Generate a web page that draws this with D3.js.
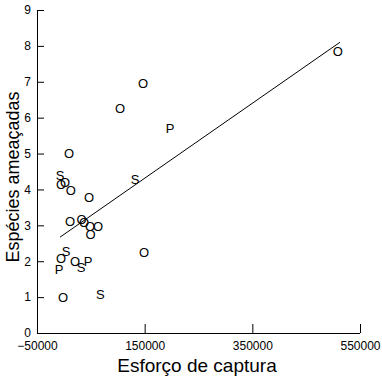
<!DOCTYPE html>
<html>
<head>
<meta charset="utf-8">
<script src="https://cdn.jsdelivr.net/npm/d3@7"></script>
<style>
  body { margin: 0; background: #fff; }
  svg { display: block; }
  text { font-family: "Liberation Sans", Arial, sans-serif; fill: #000; }
</style>
</head>
<body>
<svg id="chart" width="382" height="379"></svg>
<script>
// esforço de captura (x), espécies ameaçadas (y), grupo (letra)
var effort = [509000, 146800, 104100, 197000, 9400, -7300, -5400, 2000, 12600, 132000,
              46600, 11300, 33000, 37300, 48400, 63300, 49700, 3900, -5400, -9100,
              20600, 31700, 45000, -1800, 149000, 67500];
var species = [7.86, 6.97, 6.27, 5.71, 5.0, 4.39, 4.15, 4.21, 3.97, 4.29,
               3.79, 3.11, 3.18, 3.08, 2.97, 2.97, 2.76, 2.27, 2.07, 1.78,
               1.99, 1.84, 1.99, 1.0, 2.24, 1.08];
var group = ['O','O','O','P','O','S','O','O','O','S',
             'O','O','O','O','O','O','O','S','O','P',
             'O','S','P','O','O','S'];
var fitX = [-7300, 512700];
var fitY = [2.67, 8.10];
var xTicks = [-50000, 150000, 350000, 550000];
var yTicks = [0, 1, 2, 3, 4, 5, 6, 7, 8, 9];

var svg = d3.select('#chart');
var plotL = 37, plotR = 360, plotT = 10, plotB = 333;

var x = d3.scaleLinear().domain([-50000, 550000]).range([plotL, plotR]);
var y = d3.scaleLinear().domain([0, 9]).range([plotB, plotT]);

svg.append('g')
    .attr('transform', 'translate(0,' + plotB + ')')
    .call(d3.axisBottom(x).tickValues(xTicks).tickSize(-9).tickPadding(8).tickFormat(d3.format('d')))
    .call(g => g.selectAll('text').attr('font-size', 12).attr('font-family', null))
    .call(g => g.select('.domain').attr('d', 'M' + plotL + ',0.5H' + plotR));

svg.append('g')
    .attr('transform', 'translate(' + plotL + ',0)')
    .call(d3.axisLeft(y).tickValues(yTicks).tickSize(-7).tickPadding(6))
    .call(g => g.selectAll('text').attr('font-size', 12).attr('font-family', null))
    .call(g => g.select('.domain').attr('d', 'M0.5,' + plotB + 'V' + plotT));

svg.selectAll('.domain, .tick line').attr('stroke', '#000').attr('stroke-width', 1);

svg.append('line')
    .attr('x1', x(fitX[0])).attr('y1', y(fitY[0]))
    .attr('x2', x(fitX[1])).attr('y2', y(fitY[1]))
    .attr('stroke', '#000').attr('stroke-width', 1);

svg.selectAll('.pt')
    .data(effort.map((e, i) => ({e: e, s: species[i], g: group[i]})))
    .enter()
    .append('text')
    .attr('class', 'pt')
    .attr('x', d => x(d.e))
    .attr('y', d => y(d.s))
    .attr('dy', '0.36em')
    .attr('text-anchor', 'middle')
    .attr('font-size', 13)
    .text(d => d.g);

svg.append('text')
    .attr('x', 197).attr('y', 372)
    .attr('text-anchor', 'middle')
    .attr('font-size', 19)
    .text('Esforço de captura');

svg.append('text')
    .attr('transform', 'translate(19,177) rotate(-90)')
    .attr('text-anchor', 'middle')
    .attr('font-size', 18)
    .text('Espécies ameaçadas');
</script>
</body>
</html>
